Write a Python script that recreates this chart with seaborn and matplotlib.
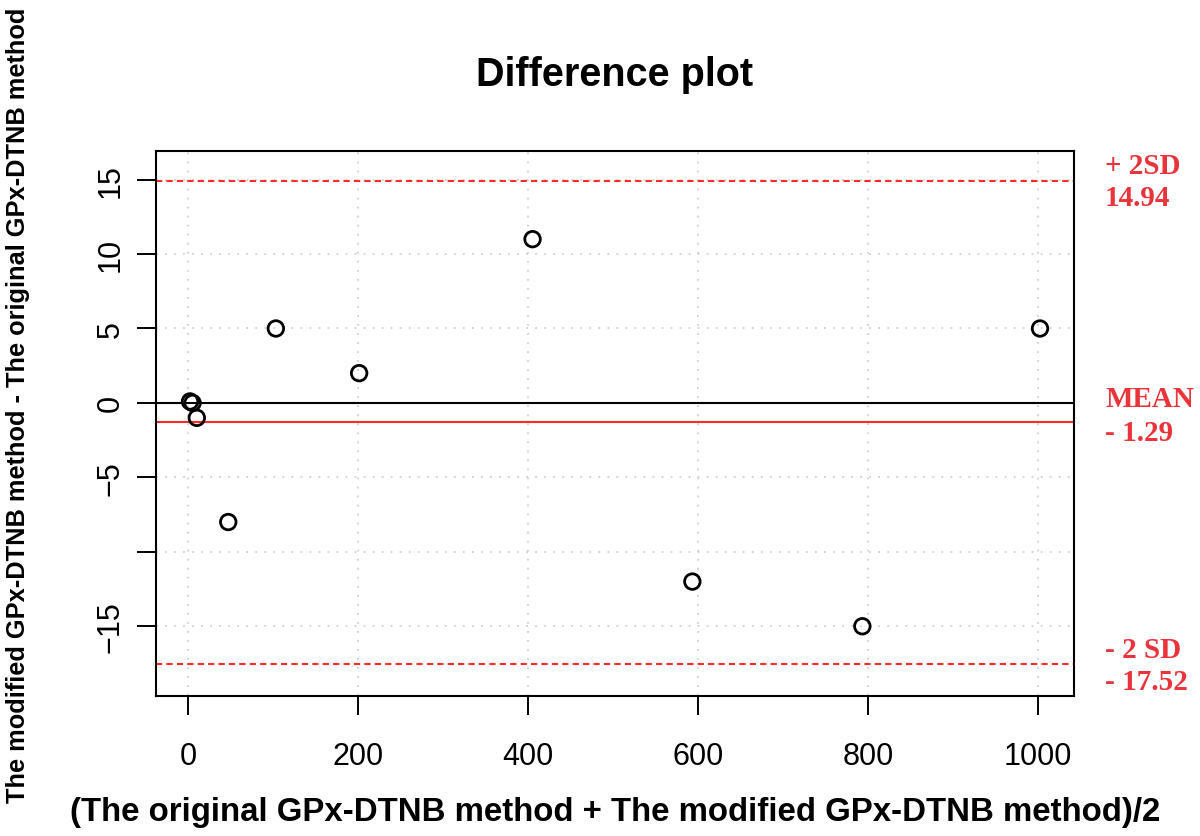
import matplotlib
matplotlib.use("Agg")
import matplotlib.pyplot as plt
import seaborn as sns
import pandas as pd

# datos
avg_vals = [2, 5, 10, 47, 103, 201, 405, 593, 793, 1002]
diff_vals = [0.1, 0.0, -1, -8, 5, 2, 11, -12, -15, 5]
mean_diff = -1.29
upper_sd = 14.94
lower_sd = -17.52
x_ticks = [0, 200, 400, 600, 800, 1000]
y_ticks = [15, 10, 5, 0, -5, -10, -15]
y_tick_labels = ["15", "10", "5", "0", "\u22125", "", "\u221215"]

df = pd.DataFrame({"avg": avg_vals, "diff": diff_vals})

sns.set_style("white")
plt.rcParams["font.family"] = ["Liberation Sans", "DejaVu Sans"]
plt.rcParams["text.color"] = "black"
plt.rcParams["axes.labelcolor"] = "black"
plt.rcParams["xtick.color"] = "black"
plt.rcParams["ytick.color"] = "black"

fig = plt.figure(figsize=(12, 8.37), dpi=100)
ax = fig.add_axes([0.13, 0.167, 0.765, 0.651])

sns.scatterplot(data=df, x="avg", y="diff", ax=ax, s=125, facecolors="none",
                edgecolor="black", linewidth=2.0, zorder=5)

ax.axhline(0, color="black", lw=1.5)
ax.axhline(mean_diff, color="#ff2a2a", lw=1.5)
ax.axhline(upper_sd, color="#ff2a2a", lw=1.5, ls=(0, (3, 2)))
ax.axhline(lower_sd, color="#ff2a2a", lw=1.5, ls=(0, (3, 2)))

ax.set_xlim(-38, 1042)
ax.set_ylim(-19.7, 16.9)
ax.set_xticks(x_ticks)
ax.set_yticks(y_ticks)
ax.set_yticklabels(y_tick_labels, rotation=90, va="center")
ax.tick_params(axis="both", direction="out", length=14, width=1.4,
               labelsize=22, left=True, bottom=True)
ax.tick_params(axis="x", pad=18)
ax.tick_params(axis="y", pad=8)
ax.grid(True, color="#d0d0d0", ls=(0, (1, 4)), lw=1.3)
for sp in ax.spines.values():
    sp.set_color("black")
    sp.set_linewidth(1.5)

ax.set_xlabel("(The original GPx-DTNB method + The modified GPx-DTNB method)/2",
              fontsize=23.8, fontweight="bold")
ax.set_ylabel("The modified GPx-DTNB method - The original GPx-DTNB method",
              fontsize=18.3, fontweight="bold")
ax.xaxis.set_label_coords(0.5, (697 - 812) / 545, transform=ax.transAxes)
ax.yaxis.set_label_coords((18 - 156) / 918, (697 - 405) / 545, transform=ax.transAxes)
ax.xaxis.label.set_va("center")
ax.yaxis.label.set_va("center")
ax.set_title("Difference plot", fontsize=28.5, fontweight="bold", pad=48)

red = "#e8343a"
serif = ["Liberation Serif", "DejaVu Serif"]
for ypx, txt in [(166, "+ 2SD"), (199, "14.94"), (400, "MEAN"), (434, "- 1.29"),
                 (651, "- 2 SD"), (683, "- 17.52")]:
    fig.text(1105 / 1200, 1 - ypx / 837, txt, color=red, fontsize=21,
             fontweight="bold", family=serif, va="center", ha="left")

fig.savefig("out.png", dpi=100)
